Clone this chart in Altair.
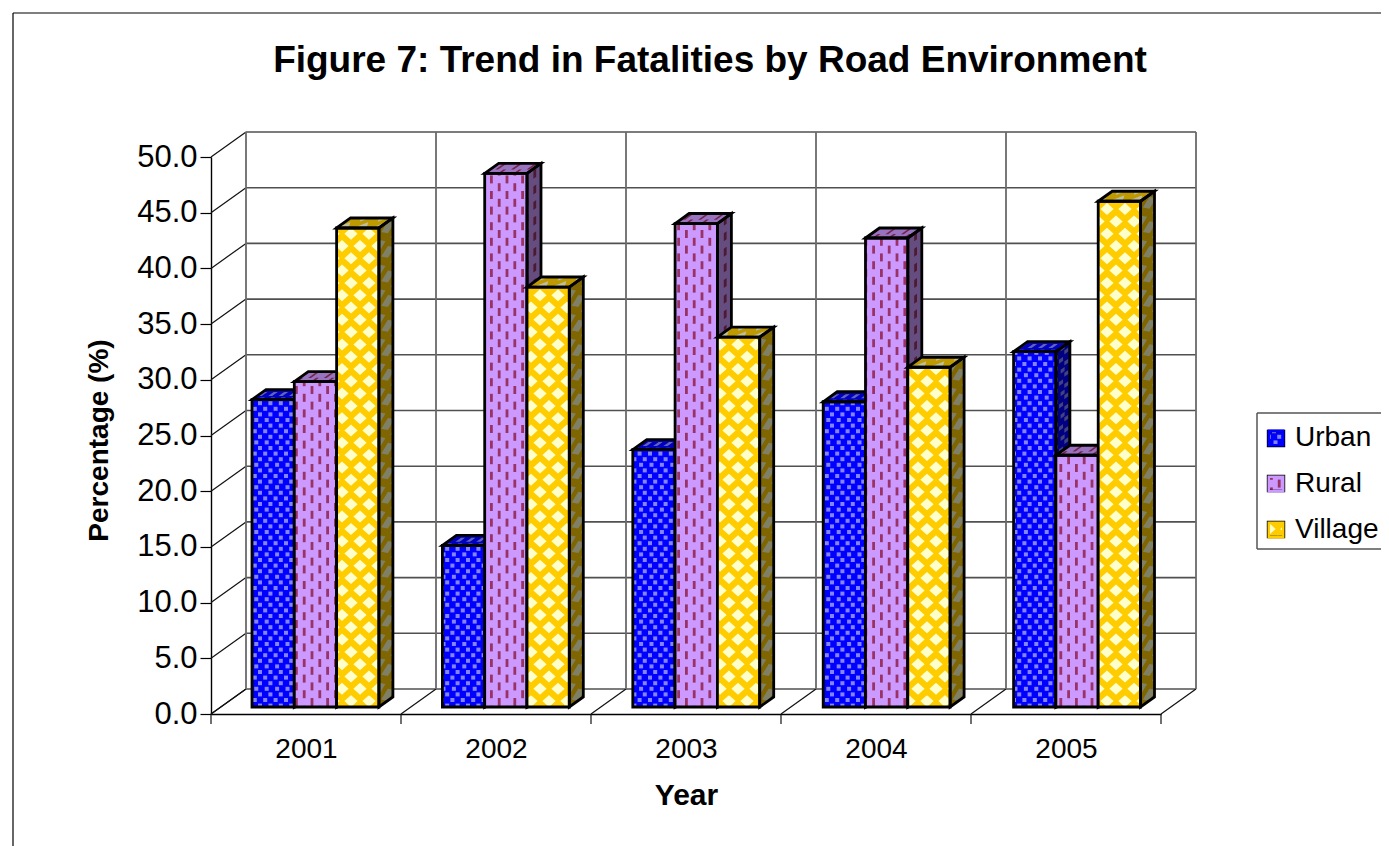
import altair as alt
import pandas as pd

alt.data_transformers.disable_max_rows()

# ---- values ----
years = ["2001", "2002", "2003", "2004", "2005"]
series = ["Urban", "Rural", "Village"]
urban = [27.6, 14.5, 23.1, 27.4, 31.9]
rural = [29.2, 47.9, 43.4, 42.1, 22.6]
village = [43.0, 37.7, 33.2, 30.5, 45.4]
y_ticks = [0, 5, 10, 15, 20, 25, 30, 35, 40, 45, 50]
chart_title = "Figure 7: Trend in Fatalities by Road Environment"

front = {"Urban": "#0000FF", "Rural": "#CC99FF", "Village": "#FFCC00"}
front_tx = {"Urban": "#8484FF", "Rural": "#993366", "Village": "#FFFFCC"}
side = {"Urban": "#000080", "Rural": "#664D80", "Village": "#806600"}
side_tx = {"Urban": "#424280", "Rural": "#4D1A33", "Village": "#808066"}
top_c = {"Urban": "#0000BF", "Rural": "#9973BF", "Village": "#BF9900"}
top_tx = {"Urban": "#6363BF", "Rural": "#73264D", "Village": "#BFBF99"}

# ---- layout (page pixels <-> data units) ----
PX0, PY0, PW, PH = 211, 157, 950, 557
UX = PW / 5
UY = PH / 50
DEPTH_X, DEPTH_Y = 35, 25      # wall depth
BAR_DX, BAR_DY = 14, 10        # bar depth
BASE_Y = 707
BAR_W = 42.3
EDGE = 2.8
PAGE_R = 1381                  # right end of the canvas


def dx(px):
    return (px - PX0) / UX


def dy(py):
    return (PY0 + PH - py) / UY


rows = []
counter = [0]


def clip(poly, x0, x1, y0, y1):
    def cut(p, inside, inter):
        out = []
        for i in range(len(p)):
            a, b = p[i], p[(i + 1) % len(p)]
            if inside(a):
                out.append(a)
                if not inside(b):
                    out.append(inter(a, b))
            elif inside(b):
                out.append(inter(a, b))
        return out

    def ix(v):
        return lambda a, b: (v, a[1] + (b[1] - a[1]) * (v - a[0]) / (b[0] - a[0]))

    def iy(v):
        return lambda a, b: (a[0] + (b[0] - a[0]) * (v - a[1]) / (b[1] - a[1]), v)

    for inside, inter in (
        (lambda q: q[0] >= x0, ix(x0)),
        (lambda q: q[0] <= x1, ix(x1)),
        (lambda q: q[1] >= y0, iy(y0)),
        (lambda q: q[1] <= y1, iy(y1)),
    ):
        if not poly:
            return []
        poly = cut(poly, inside, inter)
    return poly


def add_poly(pts, fill="transparent", stroke="transparent", sw=0):
    """Convex polygon in page pixels -> rows of one area mark."""
    if len(pts) < 3:
        return
    xs = sorted({round(p[0], 2) for p in pts})
    if len(xs) < 2:
        return
    counter[0] += 1
    n = len(pts)
    for x in xs:
        ys = []
        for i in range(n):
            a, b = pts[i], pts[(i + 1) % n]
            ax, bx = round(a[0], 2), round(b[0], 2)
            if min(ax, bx) <= x <= max(ax, bx):
                if ax == bx:
                    ys += [a[1], b[1]]
                else:
                    ys.append(a[1] + (b[1] - a[1]) * (x - ax) / (bx - ax))
        rows.append(
            dict(
                id=counter[0],
                x=round(dx(x), 4),
                y=round(dy(min(ys)), 3),
                y2=round(dy(max(ys)), 3),
                f=fill,
                s=stroke,
                w=sw,
            )
        )


def texture(name, x0, x1, y0, y1):
    """Pattern shapes, on a lattice tied to the page, in a face's own pixels."""
    out = []
    if name == "Urban":
        px, py, hw, hh = 10.4, 5.6, 2.0, 2.0
    elif name == "Rural":
        px, py, hw, hh = 7.8, 7.8, 1.4, 4.0
    else:
        px, py, hw, hh = 18.0, 12.3, 6.6, 6.0
    j0 = int(y0 // py) - 2
    j1 = int(y1 // py) + 2
    for j in range(j0, j1):
        cy = j * py
        if name == "Urban":
            shift = (j % 2) * px / 2 + (j % 4 == 3) * 1.5
        elif name == "Rural":
            shift = 0
        else:
            shift = (j % 2) * px / 2
        i0 = int(x0 // px) - 2
        i1 = int(x1 // px) + 2
        for i in range(i0, i1):
            cx = i * px + shift
            if name == "Rural" and (i % 2) != (j % 2):
                continue
            if name == "Village":
                shape = [(cx - hw, cy), (cx, cy - hh), (cx + hw, cy), (cx, cy + hh)]
            else:
                shape = [(cx - hw, cy - hh), (cx + hw, cy - hh), (cx + hw, cy + hh), (cx - hw, cy + hh)]
            c = clip(shape, x0, x1, y0, y1)
            if len(c) >= 3:
                out.append(c)
    return out


def draw_bar(name, xl, value):
    xr = xl + BAR_W
    ytop = BASE_Y - value * UY
    # front face
    add_poly([(xl, ytop), (xr, ytop), (xr, BASE_Y), (xl, BASE_Y)], fill=front[name])
    for c in texture(name, xl, xr, ytop, BASE_Y):
        add_poly(c, fill=front_tx[name])
    # side face
    add_poly(
        [(xr, ytop), (xr + BAR_DX, ytop - BAR_DY), (xr + BAR_DX, BASE_Y - BAR_DY), (xr, BASE_Y)],
        fill=side[name],
    )
    for c in texture(name, 0, BAR_DX, ytop, BASE_Y):
        add_poly(
            [(xr + u, v - u * BAR_DY / BAR_DX) for u, v in c],
            fill=side_tx[name],
        )
    # top face
    add_poly(
        [(xl, ytop), (xr, ytop), (xr + BAR_DX, ytop - BAR_DY), (xl + BAR_DX, ytop - BAR_DY)],
        fill=top_c[name],
    )
    for c in texture(name, xl, xr, 0, BAR_DY):
        add_poly(
            [(u + v * BAR_DX / BAR_DY, ytop - v) for u, v in c],
            fill=top_tx[name],
        )
    # edges
    add_poly([(xl, ytop), (xr, ytop), (xr, BASE_Y), (xl, BASE_Y)], stroke="#000000", sw=EDGE)
    add_poly(
        [(xr, ytop), (xr + BAR_DX, ytop - BAR_DY), (xr + BAR_DX, BASE_Y - BAR_DY), (xr, BASE_Y)],
        stroke="#000000",
        sw=EDGE,
    )
    add_poly(
        [(xl, ytop), (xr, ytop), (xr + BAR_DX, ytop - BAR_DY), (xl + BAR_DX, ytop - BAR_DY)],
        stroke="#000000",
        sw=EDGE,
    )


all_vals = {"Urban": urban, "Rural": rural, "Village": village}
for i in range(len(years)):
    for j, name in enumerate(series):
        draw_bar(name, 252 + i * 190.4 + j * BAR_W, all_vals[name][i])

# legend swatches: fill and texture show through the hollow legend symbols
for name, cy in zip(series, (438.5, 483.5, 529.5)):
    x0, x1, y0, y1 = 1268, 1284, cy - 7.5, cy + 7.5
    add_poly([(x0, y0), (x1, y0), (x1, y1), (x0, y1)], fill=front[name])
    for c in texture(name, x0, x1, y0, y1):
        add_poly(c, fill=front_tx[name])
    add_poly([(x0, y0), (x1, y0), (x1, y1), (x0, y1)], stroke="#000000", sw=2.4)

bars = pd.DataFrame(rows)

# ---- walls, floor and tick lines ----
lines = []


def add_line(x1, y1, x2, y2, colour, width):
    lines.append(dict(x=dx(x1), x2=dx(x2), y=dy(y1), y2=dy(y2), c=colour, w=width))


for v in y_ticks:
    py = PY0 + PH - v * UY
    add_line(PX0, py, PX0 + DEPTH_X, py - DEPTH_Y, "#111111", 1.2)
    add_line(PX0 + DEPTH_X, py - DEPTH_Y, PX0 + PW + DEPTH_X, py - DEPTH_Y, "#505050", 1.6)
for i in range(len(years) + 1):
    px = PX0 + i * UX
    add_line(px, PY0 + PH, px + DEPTH_X, PY0 + PH - DEPTH_Y, "#111111", 1.2)
    add_line(px + DEPTH_X, PY0 + PH - DEPTH_Y, px + DEPTH_X, PY0 - DEPTH_Y, "#6a6a6a", 1.8)
    add_line(px, PY0 + PH, px, PY0 + PH + 10, "#111111", 1.2)
# outer frame
add_line(13, 13, PAGE_R, 13, "#000000", 1.2)
add_line(13, 13, 13, 846, "#000000", 1.2)
# legend frame
add_line(1257, 413, 1257, 549, "#555555", 1.5)
add_line(1257, 413, PAGE_R, 413, "#555555", 1.5)
add_line(1257, 549, PAGE_R, 549, "#555555", 1.5)
walls = pd.DataFrame(lines)

FONT = "Liberation Sans"
x_scale = alt.Scale(domain=[0, 5], nice=False, zero=False)
y_scale = alt.Scale(domain=[0, 50], nice=False, zero=False)

label_expr = "[" + ",".join(f"'{y}'" for y in years) + "][floor(datum.value)]"

x_axis = alt.Axis(
    title="Year",
    values=[i + 0.5 for i in range(len(years))],
    labelExpr=label_expr,
    ticks=False,
    grid=False,
    domainColor="#000000",
    domainWidth=1.4,
    labelFont=FONT,
    labelFontSize=28,
    labelColor="#000000",
    labelPadding=21,
    labelOverlap=False,
    titleFont=FONT,
    titleFontSize=30,
    titleFontWeight="bold",
    titleColor="#000000",
    titleX=475,
    titleY=81,
    titleBaseline="middle",
)
y_axis = alt.Axis(
    title="Percentage (%)",
    values=y_ticks,
    format=".1f",
    grid=False,
    domainColor="#000000",
    domainWidth=1.4,
    tickColor="#000000",
    tickSize=11,
    tickWidth=1.2,
    labelFont=FONT,
    labelFontSize=31,
    labelColor="#000000",
    labelPadding=3,
    titleFont=FONT,
    titleFontSize=28,
    titleFontWeight="bold",
    titleColor="#000000",
    titleX=-112,
    titleY=283,
    titleBaseline="middle",
)

wall_layer = (
    alt.Chart(walls)
    .mark_rule()
    .encode(
        x=alt.X("x:Q", scale=x_scale, axis=x_axis),
        x2="x2:Q",
        y=alt.Y("y:Q", scale=y_scale, axis=y_axis),
        y2="y2:Q",
        color=alt.Color("c:N", scale=None),
        strokeWidth=alt.StrokeWidth("w:Q", scale=None),
    )
)

bar_layer = (
    alt.Chart(bars)
    .mark_area(clip=False, interpolate="linear")
    .encode(
        x=alt.X("x:Q", scale=x_scale, axis=x_axis),
        y=alt.Y("y:Q", scale=y_scale, axis=y_axis, stack=None),
        y2="y2:Q",
        fill=alt.Fill("f:N", scale=None),
        stroke=alt.Stroke("s:N", scale=None),
        strokeWidth=alt.StrokeWidth("w:Q", scale=None),
        detail="id:N",
    )
)

legend_df = pd.DataFrame({"name": series, "x": [0, 0, 0], "y": [0, 0, 0]})
legend_layer = (
    alt.Chart(legend_df)
    .mark_point(shape="square", filled=False, opacity=0, size=200)
    .encode(
        x=alt.X("x:Q", scale=x_scale, axis=x_axis),
        y=alt.Y("y:Q", scale=y_scale, axis=y_axis),
        color=alt.Color(
            "name:N",
            scale=alt.Scale(domain=series, range=[front[s] for s in series]),
            sort=series,
            legend=alt.Legend(
                title=None,
                orient="none",
                legendX=1051,
                legendY=267,
                symbolType="square",
                symbolSize=210,
                symbolFillColor="transparent",
                symbolStrokeColor="#000000",
                symbolStrokeWidth=2.4,
                symbolOpacity=1,
                labelFont=FONT,
                labelFontSize=28,
                labelColor="#000000",
                labelOffset=5,
                rowPadding=18,
                padding=0,
            ),
        ),
    )
)

title_df = pd.DataFrame({"t": [chart_title], "x": [dx(710)], "y": [dy(61)]})
title_layer = (
    alt.Chart(title_df)
    .mark_text(font=FONT, fontSize=37, fontWeight="bold", color="#000000", align="center", baseline="middle")
    .encode(
        x=alt.X("x:Q", scale=x_scale, axis=x_axis),
        y=alt.Y("y:Q", scale=y_scale, axis=y_axis),
        text="t:N",
    )
)

chart = (
    alt.layer(wall_layer, bar_layer, legend_layer, title_layer)
    .properties(
        width=PW,
        height=PH,
        padding={"left": 203, "top": 149, "right": PAGE_R - 8 - 203 - PW, "bottom": 132},
        autosize=alt.AutoSizeParams(type="none"),
        background="#FFFFFF",
    )
    .configure_view(stroke=None)
)

chart.save("out.html", embed_options={"renderer": "svg", "actions": False})
